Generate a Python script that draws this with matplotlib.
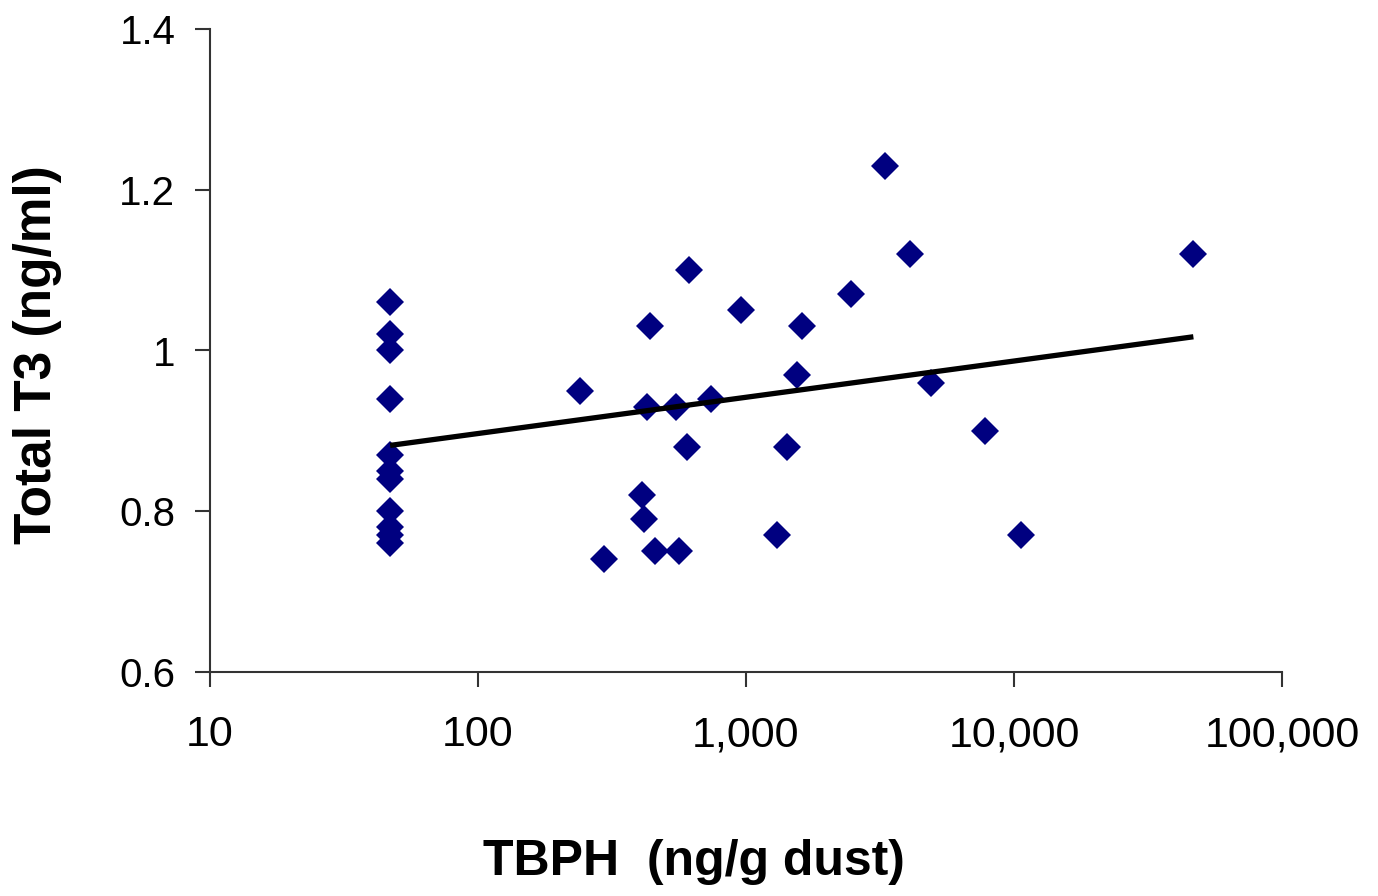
import numpy as np
import matplotlib
matplotlib.use("Agg")
import matplotlib.pyplot as plt
from matplotlib.ticker import FixedLocator, FuncFormatter, NullLocator

# TBPH (ng/g dust) and Total T3 (ng/ml)
tbph = [47, 47, 47, 47, 47, 47, 47, 47, 47, 47, 47,
        612, 957, 438, 1622, 240, 1553, 428, 548, 743, 601, 1419,
        409, 418, 1309, 296, 457, 563,
        3305, 4093, 2473, 4913, 7800, 10600, 46700]
t3 = [1.06, 1.02, 1.00, 0.94, 0.87, 0.85, 0.84, 0.80, 0.78, 0.77, 0.76,
      1.10, 1.05, 1.03, 1.03, 0.95, 0.97, 0.93, 0.93, 0.94, 0.88, 0.88,
      0.82, 0.79, 0.77, 0.74, 0.75, 0.75,
      1.23, 1.12, 1.07, 0.96, 0.90, 0.77, 1.12]

# logarithmic trend line as shown: y = intercept + slope*log10(x)
trend_intercept = 0.8065
trend_slope = 0.0451

x_ticks = [10, 100, 1000, 10000, 100000]
y_ticks = [0.6, 0.8, 1.0, 1.2, 1.4]
x_label = "TBPH  (ng/g dust)"
y_label = "Total T3 (ng/ml)"

plt.rcParams['font.family'] = ['Liberation Sans', 'DejaVu Sans']

fig = plt.figure(figsize=(13.78, 8.96), dpi=100)
ax = fig.add_axes([210/1378, 1-672/896, (1282-210)/1378, (672-29)/896])

x = np.array(tbph, dtype=float)
y = np.array(t3, dtype=float)
ax.plot(x, y, linestyle='none', marker='D', markersize=14,
        color='#000080', markeredgewidth=0, zorder=3)

xl = np.array([x.min(), x.max()])
ax.plot(xl, trend_intercept + trend_slope*np.log10(xl), color='black',
        lw=3.8, zorder=4, solid_capstyle='butt')

ax.set_xscale('log')
ax.set_xlim(10, 100000)
ax.set_ylim(0.6, 1.4)
ax.xaxis.set_major_locator(FixedLocator(x_ticks))
ax.xaxis.set_minor_locator(NullLocator())
ax.xaxis.set_major_formatter(FuncFormatter(lambda v, p: f"{int(round(v)):,}"))
ax.yaxis.set_major_locator(FixedLocator(y_ticks))
ax.yaxis.set_major_formatter(FuncFormatter(lambda v, p: f"{v:g}"))

for s in ['top', 'right']:
    ax.spines[s].set_visible(False)
for s in ['left', 'bottom']:
    ax.spines[s].set_color('#333333')
    ax.spines[s].set_linewidth(1.5)
ax.tick_params(axis='both', direction='out', length=11, width=1.5, color='#333333')
ax.tick_params(axis='x', labelsize=31, pad=20)
ax.tick_params(axis='y', labelsize=29, pad=14)

fig.text(694/1378, 1-862/896, x_label, fontsize=36, fontweight='bold',
         ha='center', va='center')
fig.text(38/1378, 1-355/896, y_label, fontsize=37, fontweight='bold',
         ha='center', va='center', rotation=90)

fig.savefig("out.png", dpi=100)
